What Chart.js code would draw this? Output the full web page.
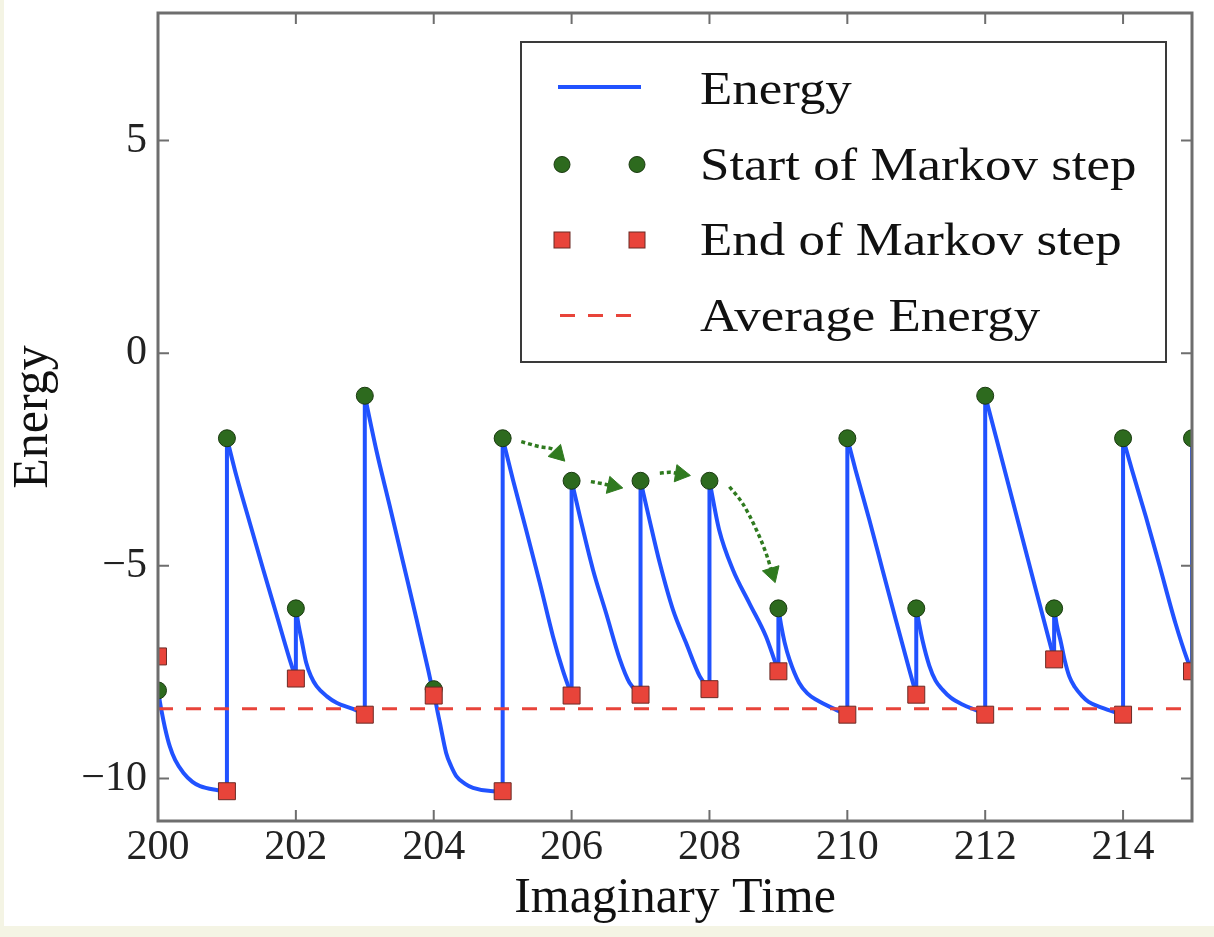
<!DOCTYPE html>
<html>
<head>
<meta charset="utf-8">
<script src="https://cdn.jsdelivr.net/npm/chart.js@4.4.1/dist/chart.umd.min.js"></script>
<style>
  html, body { margin: 0; padding: 0; background: #fff; }
  canvas { display: block; }
</style>
</head>
<body>
<canvas id="myChart" width="1214" height="937"></canvas>
<script>
// Markov steps: start and end energy at each integer imaginary time
const stepTime = [200, 201, 202, 203, 204, 205, 206, 207, 208, 209, 210, 211, 212, 213, 214, 215];
const startEnergy = [-7.93, -2, -6, -1, -7.9, -2, -3, -3, -3, -6, -2, -6, -1, -6, -2, -2];
const endEnergy = [-7.13, -10.3, -7.65, -8.5, -8.05, -10.3, -8.05, -8.03, -7.9, -7.48, -8.5, -8.03, -8.5, -7.2, -8.5, -7.48];

// energy read along each decay, offset from the step start time
const decayOffset = [
  [0.05, 0.1, 0.17, 0.25, 0.37, 0.5, 0.61, 0.85],
  [0.14, 0.33, 0.52, 0.72, 0.91],
  [0.04, 0.08, 0.15, 0.22, 0.3, 0.45, 0.59, 0.88],
  [0.17, 0.36, 0.55, 0.75, 0.92],
  [0.04, 0.09, 0.18, 0.25, 0.33, 0.45, 0.57, 0.86],
  [0.15, 0.34, 0.54, 0.73, 0.87],
  [0.12, 0.31, 0.5, 0.7, 0.84],
  [0.13, 0.28, 0.47, 0.66, 0.86],
  [0.14, 0.34, 0.58, 0.82, 0.95],
  [0.04, 0.09, 0.16, 0.3, 0.42, 0.55, 0.83],
  [0.12, 0.32, 0.51, 0.7, 0.9],
  [0.04, 0.09, 0.19, 0.28, 0.38, 0.5, 0.67, 0.9],
  [0.15, 0.35, 0.54, 0.73, 0.93],
  [0.04, 0.1, 0.15, 0.22, 0.3, 0.41, 0.5, 0.7, 0.9],
  [0.13, 0.33, 0.52, 0.76, 0.93]
];
const decayEnergy = [
  [-8.4, -8.8, -9.24, -9.57, -9.87, -10.08, -10.18, -10.27],
  [-2.9, -3.98, -5.05, -6.15, -7.2],
  [-6.4, -6.72, -7.28, -7.6, -7.83, -8.07, -8.22, -8.4],
  [-2.3, -3.58, -4.88, -6.25, -7.45],
  [-8.3, -8.7, -9.4, -9.7, -9.95, -10.12, -10.22, -10.3],
  [-2.98, -4.15, -5.41, -6.66, -7.44],
  [-3.84, -5.09, -6.11, -7.2, -7.75],
  [-3.92, -4.94, -6.03, -6.81, -7.6],
  [-4.15, -5.09, -5.88, -6.66, -7.25],
  [-6.4, -6.8, -7.2, -7.75, -8.0, -8.15, -8.38],
  [-2.75, -3.92, -5.09, -6.25, -7.45],
  [-6.35, -6.75, -7.35, -7.7, -7.91, -8.1, -8.26, -8.42],
  [-1.93, -3.17, -4.35, -5.53, -6.77],
  [-6.4, -6.81, -7.2, -7.6, -7.85, -8.07, -8.2, -8.34, -8.45],
  [-2.75, -3.84, -4.94, -6.35, -7.2]
];

const averageEnergy = -8.36;

// dotted arrows between consecutive Markov starts
const arrowTime = [
  [205.27, 205.54, 205.74, 205.8],
  [206.28, 206.45, 206.6],
  [207.28, 207.42, 207.58],
  [208.29, 208.48, 208.68, 208.82, 208.91]
];
const arrowEnergy = [
  [-2.08, -2.2, -2.27, -2.37],
  [-3.02, -3.07, -3.12],
  [-2.82, -2.8, -2.84],
  [-3.14, -3.53, -4.15, -4.7, -5.17]
];

const BLUE = '#2152ff';
const GREEN = '#2d6a1e';
const RED = '#e8443a';
const SERIF = "'Liberation Serif', 'Times New Roman', serif";

// smooth decays, one run per step, split by gaps
const decayPoints = [];
// vertical jumps at the start of each step
const jumpPoints = [];
stepTime.forEach((t, i) => {
  if (i > 0) {
    jumpPoints.push({ x: t, y: endEnergy[i] }, { x: t, y: startEnergy[i] }, { x: t, y: null });
  }
  if (i < decayOffset.length) {
    decayPoints.push({ x: t, y: startEnergy[i] });
    decayOffset[i].forEach((f, k) => decayPoints.push({ x: t + f, y: decayEnergy[i][k] }));
    decayPoints.push({ x: stepTime[i + 1], y: endEnergy[i + 1] }, { x: stepTime[i + 1], y: null });
  }
});

const energyStyle = {
  borderColor: BLUE,
  borderWidth: 4,
  borderJoinStyle: 'round',
  pointRadius: 0,
  spanGaps: false,
  order: 4
};

const arrowSets = arrowTime.map((xs, a) => ({
  label: 'arrow' + a,
  data: xs.map((x, k) => ({ x: x, y: arrowEnergy[a][k] })),
  borderColor: '#2f7a1f',
  backgroundColor: '#2f7a1f',
  borderWidth: 3.5,
  borderDash: [4, 3],
  pointStyle: 'triangle',
  pointRadius: c => c.dataIndex === xs.length - 1 ? 10 : 0,
  pointBorderWidth: 1,
  rotation: c => {
    const d = c.dataset.data, i = c.dataIndex;
    if (i === 0) return 0;
    const sx = c.chart.scales.x, sy = c.chart.scales.y;
    const dx = sx.getPixelForValue(d[i].x) - sx.getPixelForValue(d[i - 1].x);
    const dy = sy.getPixelForValue(d[i].y) - sy.getPixelForValue(d[i - 1].y);
    return Math.atan2(dy, dx) * 180 / Math.PI + 90;
  },
  cubicInterpolationMode: 'monotone',
  order: 3
}));

// beige edge seen on the scanned figure
const paper = {
  id: 'paper',
  beforeDraw(chart) {
    const { ctx, width, height } = chart;
    ctx.save();
    ctx.fillStyle = '#f4f4e4';
    ctx.fillRect(0, 0, width, height);
    ctx.fillStyle = '#ffffff';
    ctx.fillRect(4, 0, width - 4, height - 11);
    ctx.restore();
  }
};

// matplotlib style frame with inward ticks on all four sides
const frame = {
  id: 'frame',
  afterDatasetsDraw(chart) {
    const { ctx, chartArea: a, scales: { x, y } } = chart;
    ctx.save();
    ctx.strokeStyle = '#6e6e6e';
    ctx.lineWidth = 2;
    ctx.beginPath();
    x.ticks.forEach(t => {
      const px = x.getPixelForValue(t.value);
      ctx.moveTo(px, a.bottom); ctx.lineTo(px, a.bottom - 11);
      ctx.moveTo(px, a.top); ctx.lineTo(px, a.top + 11);
    });
    y.ticks.forEach(t => {
      const py = y.getPixelForValue(t.value);
      ctx.moveTo(a.left, py); ctx.lineTo(a.left + 11, py);
      ctx.moveTo(a.right, py); ctx.lineTo(a.right - 11, py);
    });
    ctx.stroke();
    ctx.lineWidth = 3;
    ctx.strokeRect(a.left, a.top, a.right - a.left, a.bottom - a.top);
    ctx.restore();
  }
};

// legend box with two markers per entry, as matplotlib draws it
const boxLegend = {
  id: 'boxLegend',
  afterDraw(chart) {
    const { ctx, chartArea: a } = chart;
    const w = 645, h = 320;
    const left = a.right - 26 - w, top = a.top + 29;
    ctx.save();
    ctx.fillStyle = '#ffffff';
    ctx.fillRect(left, top, w, h);
    ctx.strokeStyle = '#3a3a3a';
    ctx.lineWidth = 2;
    ctx.strokeRect(left, top, w, h);

    const entries = ['Energy', 'Start of Markov step', 'End of Markov step', 'Average Energy'];
    const x0 = left + 37, x1 = left + 120;
    entries.forEach((label, i) => {
      const ry = top + 47 + i * 75.5;
      if (i === 0) {
        ctx.strokeStyle = BLUE; ctx.lineWidth = 4; ctx.setLineDash([]);
        ctx.beginPath(); ctx.moveTo(x0, ry - 2); ctx.lineTo(x1, ry - 2); ctx.stroke();
      } else if (i === 1) {
        [x0 + 4, x1 - 4].forEach(cx => {
          ctx.beginPath(); ctx.arc(cx, ry, 8, 0, Math.PI * 2);
          ctx.fillStyle = GREEN; ctx.fill();
          ctx.strokeStyle = '#1a3a10'; ctx.lineWidth = 1; ctx.stroke();
        });
      } else if (i === 2) {
        [x0 + 4, x1 - 4].forEach(cx => {
          ctx.fillStyle = RED; ctx.fillRect(cx - 8, ry - 8, 16, 16);
          ctx.strokeStyle = '#6b2a25'; ctx.lineWidth = 1; ctx.strokeRect(cx - 8, ry - 8, 16, 16);
        });
      } else {
        ctx.strokeStyle = RED; ctx.lineWidth = 3; ctx.setLineDash([15, 13]);
        ctx.beginPath(); ctx.moveTo(x0 + 2, ry); ctx.lineTo(x1, ry); ctx.stroke();
        ctx.setLineDash([]);
      }
      ctx.fillStyle = '#111111';
      ctx.font = '46px ' + SERIF;
      ctx.textBaseline = 'alphabetic';
      ctx.save();
      ctx.translate(left + 179, ry + 15);
      ctx.scale(1.15, 1);
      ctx.fillText(label, 0, 0);
      ctx.restore();
    });
    ctx.restore();
  }
};

const ctx = document.getElementById('myChart').getContext('2d');
new Chart(ctx, {
  type: 'line',
  data: {
    datasets: [
      Object.assign({ label: 'Energy', data: decayPoints, cubicInterpolationMode: 'monotone' }, energyStyle),
      Object.assign({ label: 'Energy jumps', data: jumpPoints, tension: 0 }, energyStyle),
      ...arrowSets,
      {
        label: 'Start of Markov step',
        data: stepTime.map((t, i) => ({ x: t, y: startEnergy[i] })),
        showLine: false,
        pointStyle: 'circle',
        pointRadius: 8.5,
        pointBackgroundColor: GREEN,
        pointBorderColor: '#1a3a10',
        pointBorderWidth: 1,
        order: 2
      },
      {
        label: 'End of Markov step',
        data: stepTime.map((t, i) => ({ x: t, y: endEnergy[i] })),
        showLine: false,
        pointStyle: 'rect',
        pointRadius: 12,
        pointBackgroundColor: RED,
        pointBorderColor: '#6b2a25',
        pointBorderWidth: 1,
        order: 1
      },
      {
        label: 'Average Energy',
        data: [{ x: 200, y: averageEnergy }, { x: 215, y: averageEnergy }],
        borderColor: RED,
        borderWidth: 3,
        borderDash: [15, 13],
        pointRadius: 0,
        order: 0
      }
    ]
  },
  options: {
    responsive: false,
    devicePixelRatio: 1,
    animation: false,
    events: [],
    layout: { padding: { left: 0, top: 13, right: 22, bottom: 0 } },
    plugins: {
      legend: { display: false },
      tooltip: { enabled: false }
    },
    scales: {
      x: {
        type: 'linear',
        min: 200,
        max: 215,
        afterFit: s => { s.height = 116; s.paddingLeft = 0; s.paddingRight = 0; },
        grid: { display: false, drawTicks: false },
        border: { display: false },
        ticks: {
          stepSize: 2,
          includeBounds: false,
          padding: 2,
          color: '#222',
          font: { family: SERIF, size: 42 },
          maxRotation: 0
        },
        title: {
          display: true,
          text: 'Imaginary Time',
          color: '#111',
          font: { family: SERIF, size: 50 },
          padding: { top: 0, bottom: 8 }
        }
      },
      y: {
        min: -11,
        max: 8,
        afterFit: s => { s.width = 158; s.paddingTop = 0; s.paddingBottom = 0; },
        grid: { display: false, drawTicks: false },
        border: { display: false },
        ticks: {
          stepSize: 5,
          includeBounds: false,
          padding: 11,
          color: '#222',
          font: { family: SERIF, size: 42 },
          callback: v => (v < 0 ? '\u2212' + Math.abs(v) : String(v))
        },
        title: {
          display: true,
          text: 'Energy',
          color: '#111',
          font: { family: SERIF, size: 50 },
          padding: { top: 4, bottom: 0 }
        }
      }
    }
  },
  plugins: [paper, frame, boxLegend]
});
</script>
</body>
</html>
